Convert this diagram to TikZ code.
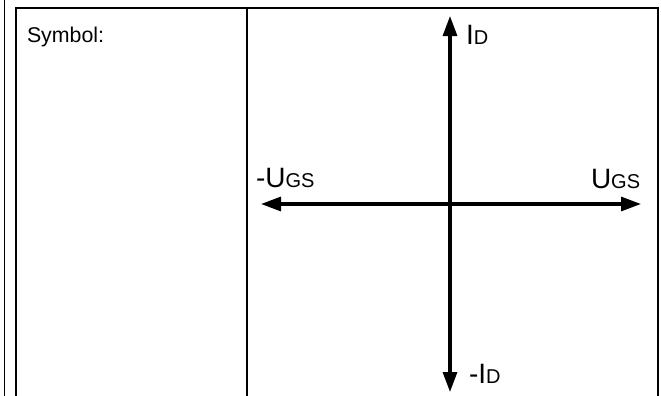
\documentclass[tikz,border=0pt]{standalone}
\usepackage{fontspec}
\setmainfont{Liberation Sans}
\usetikzlibrary{arrows.meta}
\newcommand{\bigtxt}{\fontsize{21}{25}\selectfont}
\newcommand{\smtxt}{\fontsize{15}{18}\selectfont}
\newcommand{\symtxt}{\fontsize{16}{19}\selectfont}
\tikzset{
  frame/.style={line width=1.5pt, black},
  divider/.style={line width=1.9pt, black},
  axis/.style={line width=2.3pt, black, {Triangle[length=15pt,width=10.5pt]}-{Triangle[length=15pt,width=10.5pt]}},
  lbl/.style={anchor=base west, inner sep=0pt, outer sep=0pt},
}
\begin{document}
\begin{tikzpicture}[x=0.75pt,y=-0.75pt]
\useasboundingbox (0,0) rectangle (661,396);
% frame
\coordinate (ol1) at (4.5,0);
\coordinate (ol2) at (4.5,396);
\coordinate (bl) at (16,396);
\coordinate (tl) at (16,8);
\coordinate (tr) at (658,8);
\coordinate (br) at (658,396);
\coordinate (dt) at (247,8);
\coordinate (db) at (247,396);
\draw[line width=1.2pt] (ol1) -- (ol2);
\draw[frame] (bl) -- (tl) -- (tr) -- (br);
\draw[divider] (dt) -- (db);
% axes
\coordinate (L) at (261,204);
\coordinate (R) at (641,204);
\coordinate (T) at (450,16);
\coordinate (B) at (450,392);
\draw[axis] (L) -- (R);
\draw[axis] (B) -- (T);
% labels
\node[lbl] (sym) at (27,42) {\symtxt Symbol:};
\node[lbl] (id) at (466,44) {\bigtxt I\smtxt D};
\node[lbl] (mugs) at (256,187) {\bigtxt -U\smtxt GS};
\node[lbl] (ugs) at (591,188) {\bigtxt U\smtxt GS};
\node[lbl] (mid) at (469,383) {\bigtxt -I\smtxt D};
\end{tikzpicture}
\end{document}
